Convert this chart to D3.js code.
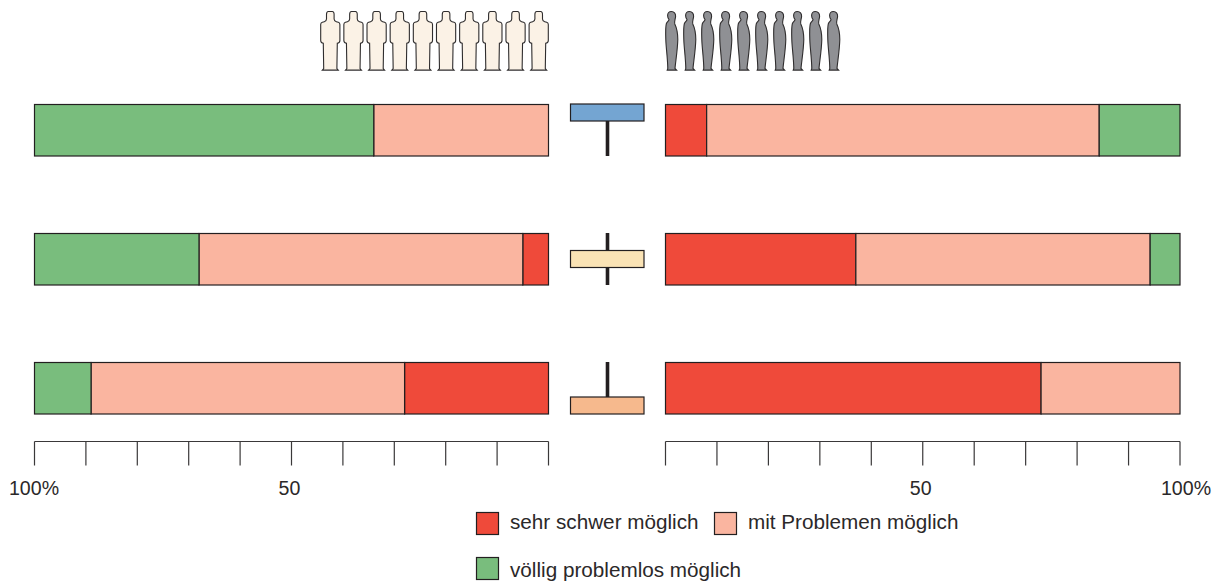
<!DOCTYPE html>
<html><head><meta charset="utf-8">
<script src="https://cdn.jsdelivr.net/npm/d3@7/dist/d3.min.js"></script>
<style>html,body{margin:0;padding:0;background:#fff}svg{display:block}text{font-family:"Liberation Sans",Arial,sans-serif;font-size:20.7px;fill:#2b2829}text.t{font-size:19.6px}</style>
</head><body><svg id="c" width="1219" height="583"></svg>
<script>
const categories = ["A","B","C"];
const segments = ["sehr","mit","voellig"];
const labels = ["sehr schwer möglich","mit Problemen möglich","völlig problemlos möglich"];
const leftSehr = [0,5,28];
const leftMit = [34,63,61];
const leftVoellig = [66,32,11];
const rightSehr = [8,37,73];
const rightMit = [76.3,57.2,27];
const rightVoellig = [15.7,5.8,0];
const centerPos = [0,0.5,1];
const centerColors = ["#74a5d2","#fae3b5","#f6b98d"];
const segColors = {sehr:"#ef4a3a",mit:"#fab5a0",voellig:"#79bd7d"};
const ticks = d3.range(0,101,10);
const tickLabels = {0:"",50:"50",100:"100%"};
const people = d3.range(10);
const ink = "#231f20";

const svg = d3.select("#c");
const xL = d3.scaleLinear([100,0],[34.5,548.5]);
const xR = d3.scaleLinear([0,100],[665.5,1180]);
const rowY = d3.scaleOrdinal(categories,[104,233,362]);
const barH = 52;

function bars(sehr,mit,vo,x){
  categories.forEach((c,i)=>{
    let acc=0;
    const vals={sehr:sehr[i],mit:mit[i],voellig:vo[i]};
    segments.filter(s=>vals[s]>0).forEach(s=>{
      const a=x(acc),b=x(acc+vals[s]);
      svg.append("rect").attr("x",Math.min(a,b)).attr("y",rowY(c)+.5)
        .attr("width",Math.abs(b-a)).attr("height",barH-.5)
        .attr("fill",segColors[s]).attr("stroke",ink).attr("stroke-width",1.2);
      acc+=vals[s];
    });
  });
}
bars(leftSehr,leftMit,leftVoellig,d3.scaleLinear([0,100],[548.5,34.5]));
bars(rightSehr,rightMit,rightVoellig,xR);

// centre markers
const inner = d3.scaleLinear([0,1],[0,barH-17]);
const cx=607.5;
categories.forEach((c,i)=>{
  const top=rowY(c);
  svg.append("line").attr("x1",cx).attr("x2",cx).attr("y1",top).attr("y2",top+barH)
    .attr("stroke",ink).attr("stroke-width",3.6);
  svg.append("rect").attr("x",570.5).attr("width",73.5).attr("y",top+inner(centerPos[i])).attr("height",17)
    .attr("fill",centerColors[i]).attr("stroke",ink).attr("stroke-width",1.2);
});

// axes
function axis(x,labelDx){
  const g=svg.append("g").attr("transform","translate(0,441.5)");
  g.call(d3.axisBottom(x).tickValues(ticks).tickSize(24).tickFormat(d=>"").offset(0));
  g.selectAll("path,line").attr("stroke","#3a3839").attr("stroke-width",1.2);
  g.select("path").attr("d",`M${x.range()[0]},0H${x.range()[1]}`);
  ticks.filter(t=>tickLabels[t]).forEach(t=>{
    svg.append("text").attr("class","t").attr("x",x(t)+labelDx[t]).attr("y",495).attr("text-anchor","middle").text(tickLabels[t]);
  });
}
axis(xL,{50:-2,100:-0.5});
axis(xR,{50:-2,100:6});

// people
const lightPerson="M-2,0 C-3.4,0 -3.8,1.4 -3.8,3 L-3.8,7.6 C-3.8,8.8 -4.6,9.8 -6,10.2 L-8,10.8 C-9.2,11.2 -9.6,12 -9.6,13 L-9.6,29 C-9.6,30.6 -8.6,31.6 -7,31.8 L-6.6,57 L-8,58.6 L8,58.6 L6.6,57 L7,31.8 C8.6,31.6 9.6,30.6 9.6,29 L9.6,13 C9.6,12 9.2,11.2 8,10.8 L6,10.2 C4.6,9.8 3.8,8.8 3.8,7.6 L3.8,3 C3.8,1.4 3.4,0 2,0 Z";
const darkPerson="M-0.6,0 C-3,0 -4.4,1.8 -4.4,4 C-4.4,6 -3.6,7.2 -3,8 C-3,9.4 -4.8,10.4 -5.6,12 C-6.6,15 -6.4,22 -6.2,28 C-6,36 -4.4,46 -4.2,57 L-4.8,58.6 L4.6,58.6 L3,57 C3.6,50 5.6,38 5.8,28 C5.8,22 5,17 2.8,12.4 C2,10.4 3.4,7.4 3.6,5 C3.8,2 2,0 -0.6,0 Z";
const xPL=d3.scaleLinear([0,9],[330.3,538.7]);
const xPR=d3.scaleLinear([0,9],[672,834]);
svg.selectAll(".pl").data(people).join("path").attr("class","pl").attr("d",lightPerson)
  .attr("transform",d=>`translate(${xPL(d)},11.5)`).attr("fill","#fbf2e6").attr("stroke","#2f2d2e").attr("stroke-width",1.1);
svg.selectAll(".pr").data(people).join("path").attr("class","pr").attr("d",darkPerson)
  .attr("transform",d=>`translate(${xPR(d)},11.5)`).attr("fill","#8f9094").attr("stroke","#2f2d2e").attr("stroke-width",1.1);

// legend
const legendX=[476.5,714.5,476.5], legendY=[512.5,512.5,557.5], legendBase=[529,529,576.5];
segments.forEach((s,i)=>{
  svg.append("rect").attr("x",legendX[i]).attr("y",legendY[i]).attr("width",22).attr("height",22)
    .attr("fill",segColors[s]).attr("stroke",ink).attr("stroke-width",1.2);
  svg.append("text").attr("x",legendX[i]+33.5).attr("y",legendBase[i]).text(labels[i]);
});
</script></body></html>
